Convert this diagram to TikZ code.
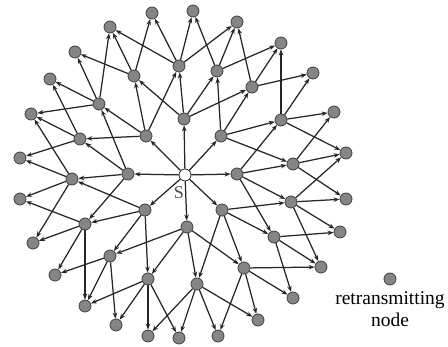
\documentclass[tikz,border=0pt]{standalone}
\usepackage{fontspec}
\setmainfont{Liberation Serif}
\usetikzlibrary{arrows.meta,positioning}

\tikzset{
  relay/.style={circle, draw=black!75, fill=black!48, line width=0.8pt, minimum size=12pt, inner sep=0pt},
  source/.style={relay, fill=white, draw=black!85},
  link/.style={line width=1.25pt, draw=black!85, -{Stealth[length=6pt,width=4.5pt]}},
}

\begin{document}
\begin{tikzpicture}[x=1pt, y=-1pt]
    \useasboundingbox (0,0) rectangle (448,347);

    % Source
    \node[source] (s) at (185,175) {};
    \node[font=\fontsize{18}{18}\selectfont, text=black!70, inner sep=0pt] (slabel) at (179,193) {S};

    % Inner ring
    \foreach \n/\x/\y in {in1/184/119, in2/221/136, in3/237/174, in4/222/210,
                          in5/187/227, in6/145/210, in7/128/174, in8/146/136}
      \node[relay] (\n) at (\x,\y) {};

    % Middle ring
    \foreach \n/\x/\y in {mid1/179/66, mid2/217/71, mid3/252/87, mid4/281/120,
                          mid5/293/164, mid6/291/202, mid7/274/237, mid8/244/268,
                          mid9/197/284, mid10/148/279, mid11/110/256, mid12/85/224,
                          mid13/72/179, mid14/80/139, mid15/99/104, mid16/134/76}
      \node[relay] (\n) at (\x,\y) {};

    % Outer ring
    \foreach \n/\x/\y in {out1/152/13, out2/193/11, out3/237/22, out4/281/43,
                          out5/313/73, out6/334/112, out7/346/153, out8/346/199,
                          out9/340/232, out10/321/267, out11/293/298, out12/258/320,
                          out13/218/336, out14/179/338, out15/148/336, out16/116/325,
                          out17/85/306, out18/55/275, out19/33/243, out20/20/199,
                          out21/20/158, out22/31/114, out23/50/79, out24/75/52,
                          out25/110/27}
      \node[relay] (\n) at (\x,\y) {};

    % Source to inner ring
    \foreach \i in {1,...,8}
      \draw[link] (s) -- (in\i);

    % Inner ring to middle ring
    \foreach \a/\b in {in1/mid16, in1/mid1, in1/mid2, in1/mid3,
                       in2/mid2, in2/mid3, in2/mid4, in2/mid5,
                       in3/mid4, in3/mid5, in3/mid6, in3/mid7,
                       in4/mid6, in4/mid7, in4/mid8, in4/mid9,
                       in5/mid8, in5/mid9, in5/mid10, in5/mid11,
                       in6/mid10, in6/mid11, in6/mid12, in6/mid13,
                       in7/mid12, in7/mid13, in7/mid14, in7/mid15,
                       in8/mid14, in8/mid15, in8/mid16, in8/mid1}
      \draw[link] (\a) -- (\b);

    % Middle ring to outer ring
    \foreach \a/\b in {mid1/out25, mid1/out1, mid1/out2, mid1/out3,
                       mid2/out2, mid2/out3, mid2/out4,
                       mid3/out3, mid3/out4, mid3/out5,
                       mid4/out4, mid4/out5, mid4/out6, mid4/out7,
                       mid5/out6, mid5/out7, mid5/out8,
                       mid6/out7, mid6/out8, mid6/out9, mid6/out10,
                       mid7/out9, mid7/out10, mid7/out11,
                       mid8/out10, mid8/out11, mid8/out12, mid8/out13,
                       mid9/out12, mid9/out13, mid9/out14, mid9/out15,
                       mid10/out14, mid10/out15, mid10/out16, mid10/out17,
                       mid11/out16, mid11/out17, mid11/out18,
                       mid12/out17, mid12/out18, mid12/out19, mid12/out20,
                       mid13/out19, mid13/out20, mid13/out21, mid13/out22,
                       mid14/out21, mid14/out22, mid14/out23,
                       mid15/out22, mid15/out23, mid15/out24, mid15/out25,
                       mid16/out24, mid16/out25, mid16/out1}
      \draw[link] (\a) -- (\b);

    % Legend
    \node[relay] (key) at (390,279) {};
    \node[font=\fontsize{19.5}{22}\selectfont, align=center, inner sep=0pt, below=6pt of key] (keytext) {retransmitting\\node};

\end{tikzpicture}
\end{document}
